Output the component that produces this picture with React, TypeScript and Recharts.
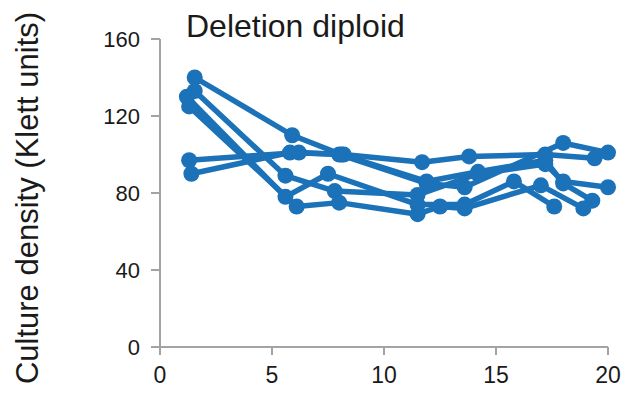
import { LineChart, Line, XAxis, YAxis } from "recharts";

// each run: [time, culture density]
const run1 = [[1.55, 140], [5.9, 110], [8.1, 100], [11.9, 86], [14.2, 91], [17.2, 97], [18.0, 85], [19.3, 76]];
const run2 = [[1.3, 97], [6.2, 101], [8.2, 100], [11.7, 96], [13.8, 99], [17.2, 100], [19.4, 98]];
const run3 = [[1.4, 90], [5.8, 101], [8.0, 100], [11.9, 85], [13.6, 83], [18.0, 106], [20.0, 101]];
const run4 = [[1.55, 133], [5.6, 89], [7.8, 81], [11.5, 79], [14.2, 90], [17.2, 95], [18.0, 86], [20.0, 83]];
const run5 = [[1.2, 130], [5.6, 78], [7.5, 90], [11.5, 74], [13.6, 74], [15.8, 86], [17.6, 73]];
const run6 = [[1.3, 125], [6.1, 73], [8.0, 75], [11.5, 69], [12.5, 73], [13.6, 72], [17.0, 84], [18.9, 72]];

const runs = [run1, run2, run3, run4, run5, run6];
const xTicks = [0, 5, 10, 15, 20];
const yTicks = [0, 40, 80, 120, 160];

const BLUE = "#1b72b8";
const AXIS = "#a3a3a3";
const FONT = "'Liberation Sans', Arial, sans-serif";

export default function App() {
  return (
    <div style={{ position: "absolute", left: 0, top: 0, width: 632, height: 399, background: "#fff" }}>
      <LineChart width={632} height={399} margin={{ top: 39, right: 24, bottom: 0, left: 0 }}>
        <XAxis
          type="number"
          dataKey="t"
          domain={[0, 20]}
          ticks={xTicks}
          allowDuplicatedCategory={false}
          height={52}
          tickSize={8}
          tickMargin={12}
          stroke={AXIS}
          strokeWidth={2}
          tick={{ fontSize: 23, fill: "#1a1a1a", fontFamily: FONT }}
        />
        <YAxis
          type="number"
          domain={[0, 160]}
          ticks={yTicks}
          width={160}
          tickSize={9}
          tickMargin={11}
          stroke={AXIS}
          strokeWidth={2}
          tick={{ fontSize: 22, fill: "#1a1a1a", fontFamily: FONT }}
        />
        {runs.map((run, i) => (
          <Line
            key={i}
            data={run.map(([t, v]) => ({ t, v }))}
            dataKey="v"
            type="linear"
            stroke={BLUE}
            strokeWidth={5.5}
            strokeLinejoin="round"
            dot={{ r: 8, fill: BLUE, stroke: "none" }}
            activeDot={false}
            isAnimationActive={false}
          />
        ))}
      </LineChart>
      <svg
        width={632}
        height={399}
        style={{ position: "absolute", left: 0, top: 0, pointerEvents: "none" }}
      >
        <text x={186} y={37} fontSize={32} fontFamily={FONT} fill="#1a1a1a">
          Deletion diploid
        </text>
        <text
          transform="translate(38,198) rotate(-90)"
          textAnchor="middle"
          fontSize={31}
          fontFamily={FONT}
          fill="#1a1a1a"
        >
          Culture density (Klett units)
        </text>
      </svg>
    </div>
  );
}
